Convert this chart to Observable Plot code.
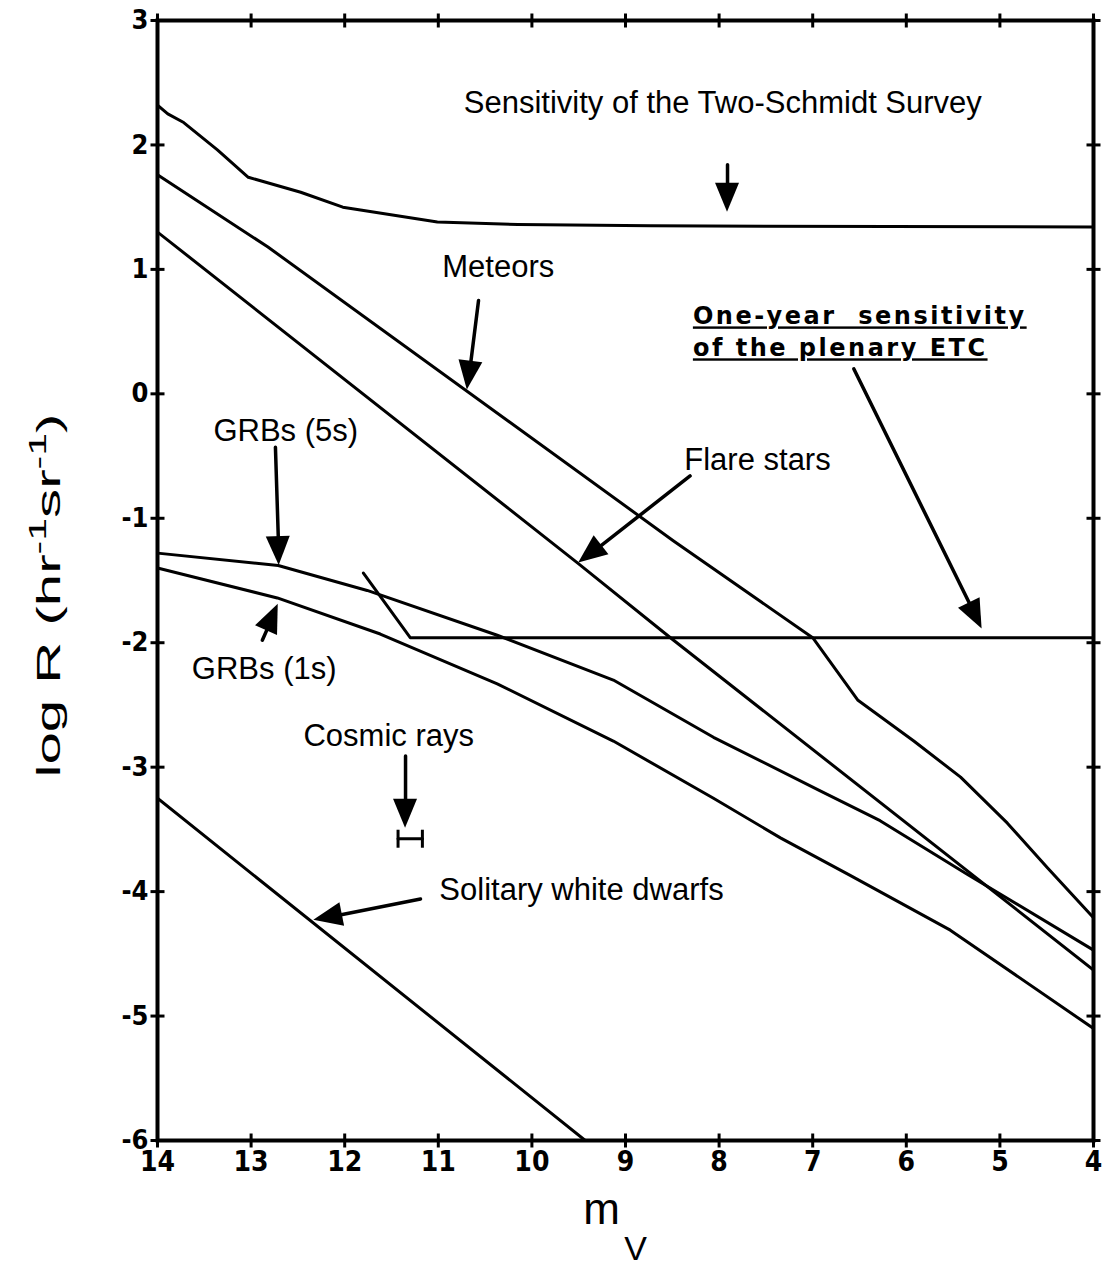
<!DOCTYPE html>
<html>
<head>
<meta charset="utf-8">
<script src="https://cdn.jsdelivr.net/npm/d3@7"></script>
<script src="https://cdn.jsdelivr.net/npm/@observablehq/plot@0.6"></script>
<style>
  html, body { margin: 0; padding: 0; background: #fff; }
  #chart svg { display: block; }
</style>
</head>
<body>
<div id="chart"></div>
<script>
// ---------- axes ----------
const xTicks = [14, 13, 12, 11, 10, 9, 8, 7, 6, 5, 4];
const yTicks = [3, 2, 1, 0, -1, -2, -3, -4, -5, -6];
const xDomain = [14, 4];
const yDomain = [-6, 3];
const xLabel = "m";
const xLabelSub = "V";
const yLabel = "log R (hr-1sr-1)";

// ---------- curves (m_V, log R) ----------
const twoSchmidtMv   = [14, 13.89, 13.72, 13.36, 13.03, 12.47, 12.02, 11.01, 10.15, 8.73, 4];
const twoSchmidtLogR = [2.32, 2.25, 2.18, 1.96, 1.74, 1.62, 1.50, 1.38, 1.36, 1.35, 1.34];
const meteorsMv   = [14, 12.82, 8.49, 7.0, 6.52, 5.92, 5.42, 4.92, 4.49, 4];
const meteorsLogR = [1.76, 1.18, -1.18, -1.96, -2.46, -2.79, -3.08, -3.45, -3.81, -4.21];
const flareMv   = [14, 9.51, 8.52, 4];
const flareLogR = [1.30, -1.36, -1.96, -4.63];
const grb5Mv   = [14, 12.71, 11.76, 10.37, 9.13, 8.06, 6.92, 6.28, 5.35, 4];
const grb5LogR = [-1.28, -1.38, -1.58, -1.94, -2.30, -2.76, -3.19, -3.43, -3.86, -4.47];
const grb1Mv   = [14, 12.72, 11.62, 10.37, 9.13, 8.06, 7.34, 6.60, 5.53, 4];
const grb1LogR = [-1.40, -1.64, -1.93, -2.33, -2.79, -3.25, -3.57, -3.87, -4.31, -5.10];
const etcMv   = [11.80, 11.30, 4];
const etcLogR = [-1.44, -1.96, -1.96];
const whiteDwarfMv   = [14, 9.43];
const whiteDwarfLogR = [-3.25, -6];
const cosmicMv   = [11.43, 11.17];
const cosmicLogR = -3.575;

// ---------- annotations ----------
const labelText = ["Sensitivity of the Two-Schmidt Survey", "Meteors", "Flare stars",
                   "GRBs (5s)", "GRBs (1s)", "Cosmic rays", "Solitary white dwarfs"];
const labelMv   = [7.96, 10.36, 7.59, 12.63, 12.86, 11.53, 9.47];
const labelLogR = [2.34, 1.02, -0.53, -0.30, -2.21, -2.75, -3.99];
const etcLabel = "One-year  sensitivity\nof the plenary ETC";
const etcLabelMv = 8.28;
const etcLabelLogR = 0.74;

const arrowFromMv   = [7.91, 10.57, 6.56, 8.31, 12.74, 12.88, 11.35, 11.19];
const arrowFromLogR = [1.84, 0.75, 0.20, -0.66, -0.43, -1.98, -2.91, -4.06];
const arrowToMv     = [7.91, 10.69, 5.19, 9.50, 12.70, 12.71, 11.35, 12.33];
const arrowToLogR   = [1.46, 0.03, -1.89, -1.36, -1.38, -1.69, -3.49, -4.23];

// ---------- tables built from the arrays ----------
const seriesDefs = [
  ["Two-Schmidt", twoSchmidtMv, twoSchmidtLogR],
  ["Meteors", meteorsMv, meteorsLogR],
  ["Flare stars", flareMv, flareLogR],
  ["GRBs 5s", grb5Mv, grb5LogR],
  ["GRBs 1s", grb1Mv, grb1LogR],
  ["ETC", etcMv, etcLogR],
  ["White dwarfs", whiteDwarfMv, whiteDwarfLogR]
];
const curves = seriesDefs.flatMap(([name, xs, ys]) => xs.map((m, i) => ({series: name, m, logR: ys[i]})));
const labels = labelText.map((t, i) => ({text: t, m: labelMv[i], logR: labelLogR[i]}));
const arrows = arrowFromMv.map((_, i) => ({x1: arrowFromMv[i], y1: arrowFromLogR[i], x2: arrowToMv[i], y2: arrowToLogR[i]}));
const cosmic = cosmicMv.map(m => ({m, logR: cosmicLogR}));

// custom tick symbols (centred line segments)
const vTick = { draw(ctx, size) { const r = Math.sqrt(size / Math.PI); ctx.moveTo(0, -r); ctx.lineTo(0, r); } };
const hTick = { draw(ctx, size) { const r = Math.sqrt(size / Math.PI); ctx.moveTo(-r, 0); ctx.lineTo(r, 0); } };

const annoFont = "Liberation Sans, Arial, Helvetica, sans-serif";
const tickFont = "Liberation Sans Narrow, DejaVu Sans Condensed, Arial Narrow, sans-serif";

// filled arrowheads drawn with the plot's own scales
function arrowHeads(index, scales) {
  const g = d3.create("svg:g").attr("aria-label", "arrowheads");
  for (const a of arrows) {
    const x1 = scales.x(a.x1), y1 = scales.y(a.y1), x2 = scales.x(a.x2), y2 = scales.y(a.y2);
    const ang = Math.atan2(y2 - y1, x2 - x1);
    const L = 29, W = 12;
    const bx = x2 - L * Math.cos(ang), by = y2 - L * Math.sin(ang);
    const px = -Math.sin(ang) * W, py = Math.cos(ang) * W;
    g.append("path")
      .attr("d", `M${x2},${y2}L${bx + px},${by + py}L${bx - px},${by - py}Z`)
      .attr("fill", "black");
  }
  return g.node();
}

const chart = Plot.plot({
  width: 1102,
  height: 1267,
  marginLeft: 157,
  marginRight: 9,
  marginTop: 20,
  marginBottom: 127,
  x: {domain: xDomain, label: null},
  y: {domain: yDomain, label: null},
  style: {background: "white", color: "black"},
  marks: [
    Plot.axisX(xTicks, {anchor: "bottom", tickSize: 0, tickPadding: 11, fontSize: 28, fontWeight: "bold",
      fontFamily: tickFont, tickFormat: d => String(d), label: null}),
    Plot.axisY(yTicks, {anchor: "left", tickSize: 0, tickPadding: 9, fontSize: 27, fontWeight: "bold",
      fontFamily: tickFont, tickFormat: d => String(d), label: null}),
    // tick marks straddling all four frame edges
    Plot.dot(xTicks, {x: d => d, y: yDomain[0], symbol: vTick, r: 7, fill: "none", stroke: "black", strokeWidth: 3}),
    Plot.dot(xTicks, {x: d => d, y: yDomain[1], symbol: vTick, r: 7, fill: "none", stroke: "black", strokeWidth: 3}),
    Plot.dot(yTicks, {x: xDomain[0], y: d => d, symbol: hTick, r: 7, fill: "none", stroke: "black", strokeWidth: 3}),
    Plot.dot(yTicks, {x: xDomain[1], y: d => d, symbol: hTick, r: 7, fill: "none", stroke: "black", strokeWidth: 3}),
    Plot.frame({stroke: "black", strokeWidth: 4}),
    // curves
    Plot.line(curves, {x: "m", y: "logR", z: "series", stroke: "black", strokeWidth: 3, strokeLinejoin: "round", clip: true}),
    // cosmic rays error bar
    Plot.line(cosmic, {x: "m", y: "logR", stroke: "black", strokeWidth: 3}),
    Plot.dot(cosmic, {x: "m", y: "logR", symbol: vTick, r: 9, fill: "none", stroke: "black", strokeWidth: 3}),
    // arrows: shafts + filled heads
    Plot.arrow(arrows, {x1: "x1", y1: "y1", x2: "x2", y2: "y2", stroke: "black", strokeWidth: 3.5,
      headLength: 0, insetEnd: 15}),
    arrowHeads,
    // annotation texts
    Plot.text(labels, {x: "m", y: "logR", text: "text", fontSize: 31, fontFamily: annoFont,
      fill: "black", textAnchor: "middle", lineAnchor: "middle"}),
    Plot.text([etcLabel], {x: etcLabelMv, y: etcLabelLogR, text: d => d, fontSize: 24, fontWeight: "bold",
      fontFamily: "DejaVu Sans, sans-serif", textAnchor: "start", lineAnchor: "top", lineHeight: 1.33, fill: "black"}),
    // axis titles
    Plot.text([xLabel], {frameAnchor: "bottom", dx: -24, dy: 69, text: d => d, fontSize: 44,
      fontFamily: annoFont, lineAnchor: "middle", fill: "black"}),
    Plot.text([xLabelSub], {frameAnchor: "bottom", dx: 10, dy: 109, text: d => d, fontSize: 34,
      fontFamily: annoFont, lineAnchor: "middle", fill: "black"}),
    Plot.text([yLabel], {frameAnchor: "left", dx: -108, dy: 197, rotate: -90, text: d => d, fontSize: 34,
      fontFamily: annoFont, textAnchor: "start", lineAnchor: "middle", fill: "black"})
  ]
});

document.getElementById("chart").appendChild(chart);

// ---------- text styling post-process ----------
d3.select(chart).selectAll("text").each(function () {
  const t = this.textContent;
  if (t === yLabel) {
    const sel = d3.select(this);
    sel.text(null);
    sel.append("tspan").text("log R (hr");
    sel.append("tspan").attr("dy", -14).attr("font-size", 24).text("-1");
    sel.append("tspan").attr("dy", 14).text("sr");
    sel.append("tspan").attr("dy", -14).attr("font-size", 24).text("-1");
    sel.append("tspan").attr("dy", 14).text(")");
    sel.attr("textLength", 364).attr("lengthAdjust", "spacingAndGlyphs");
  } else if (t.startsWith("One-year")) {
    d3.select(this).style("text-decoration", "underline").style("letter-spacing", "2.5px");
  }
});
</script>
</body>
</html>
